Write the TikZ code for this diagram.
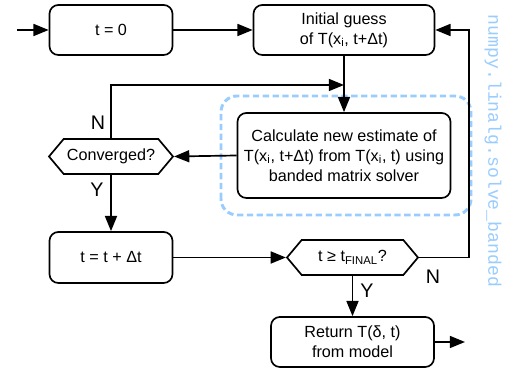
\documentclass[tikz,border=0pt]{standalone}
\usepackage{fontspec}
\setmainfont{Liberation Sans}
\setmonofont{Liberation Mono}
\usetikzlibrary{arrows.meta, shapes.symbols}
\definecolor{solverblue}{RGB}{153,204,255}

\begin{document}
\begin{tikzpicture}[
        box/.style={draw, line width=1.2pt, rounded corners=0.22cm, align=center, inner sep=0pt, font=\fontsize{11.5}{14.2}\selectfont},
        decision/.style={draw, line width=1.2pt, shape=signal, signal to=west and east, signal pointer angle=100, inner sep=0pt, minimum height=0.875cm, font=\fontsize{11.5}{14.2}\selectfont},
        arr/.style={line width=1.2pt, -{Triangle[length=3.8mm, width=3mm]}},
        yn/.style={font=\fontsize{14}{16}\selectfont}
    ]
        \useasboundingbox (0,0) rectangle (12.725,9.25);

        % Solver region
        \draw[solverblue, line width=2.1pt, dash pattern=on 4.5pt off 2.5pt, rounded corners=0.4cm] (5.525,3.875) rectangle (11.775,6.85);
        \node[solverblue, rotate=-90, font=\ttfamily\fontsize{12.9}{14}\selectfont] (solver) at (12.325,5.475) {numpy.linalg.solve\_banded};

        % Boxes
        \node[box, minimum width=3.075cm, minimum height=1.25cm] (tzero) at (2.775,8.5) {t = 0};
        \node[box, minimum width=4.525cm, minimum height=1.25cm] (guess) at (8.6,8.5) {Initial guess\\of T(x\textsubscript{i}, t+Δt)};
        \node[box, minimum width=5.325cm, minimum height=2.125cm] (calc) at (8.6,5.3625) {Calculate new estimate of\\T(x\textsubscript{i}, t+Δt) from T(x\textsubscript{i}, t) using\\banded matrix solver};
        \node[decision, minimum width=3.1cm] (conv) at (2.775,5.3375) {Converged?};
        \node[box, minimum width=3.075cm, minimum height=1.275cm] (tstep) at (2.775,2.8125) {t = t + Δt};
        \node[decision, minimum width=3.275cm] (tfinal) at (8.8125,2.8125) {t ≥ t\textsubscript{FINAL}?};
        \node[box, minimum width=4.075cm, minimum height=1.25cm] (result) at (8.8125,0.7) {Return T(δ, t)\\from model};

        % Free ends
        \coordinate (start) at (0.425,8.5);
        \coordinate (join) at (8.6,7.125);
        \coordinate (finish) at (11.625,0.7);

        % Connectors
        \draw[arr] (start) -- (tzero.west);
        \draw[arr] (tzero.east) -- (guess.west);
        \draw[arr] (guess.south) -- (calc.north);
        \draw[arr] (calc.west) -- (conv.east);
        \draw[arr] (conv.north) |- (join);
        \draw[arr] (conv.south) -- (tstep.north);
        \draw[arr] (tstep.east) -- (tfinal.west);
        \draw[arr] (tfinal.east) -- ++(1.25,0) |- (guess.east);
        \draw[arr] (tfinal.south) -- (result.north);
        \draw[arr] (result.east) -- (finish);

        % Branch labels
        \node[yn] (convno) at (2.45,6.175) {N};
        \node[yn] (convyes) at (2.425,4.5) {Y};
        \node[yn] (finalno) at (10.825,2.325) {N};
        \node[yn] (finalyes) at (9.175,1.975) {Y};
    \end{tikzpicture}
\end{document}
